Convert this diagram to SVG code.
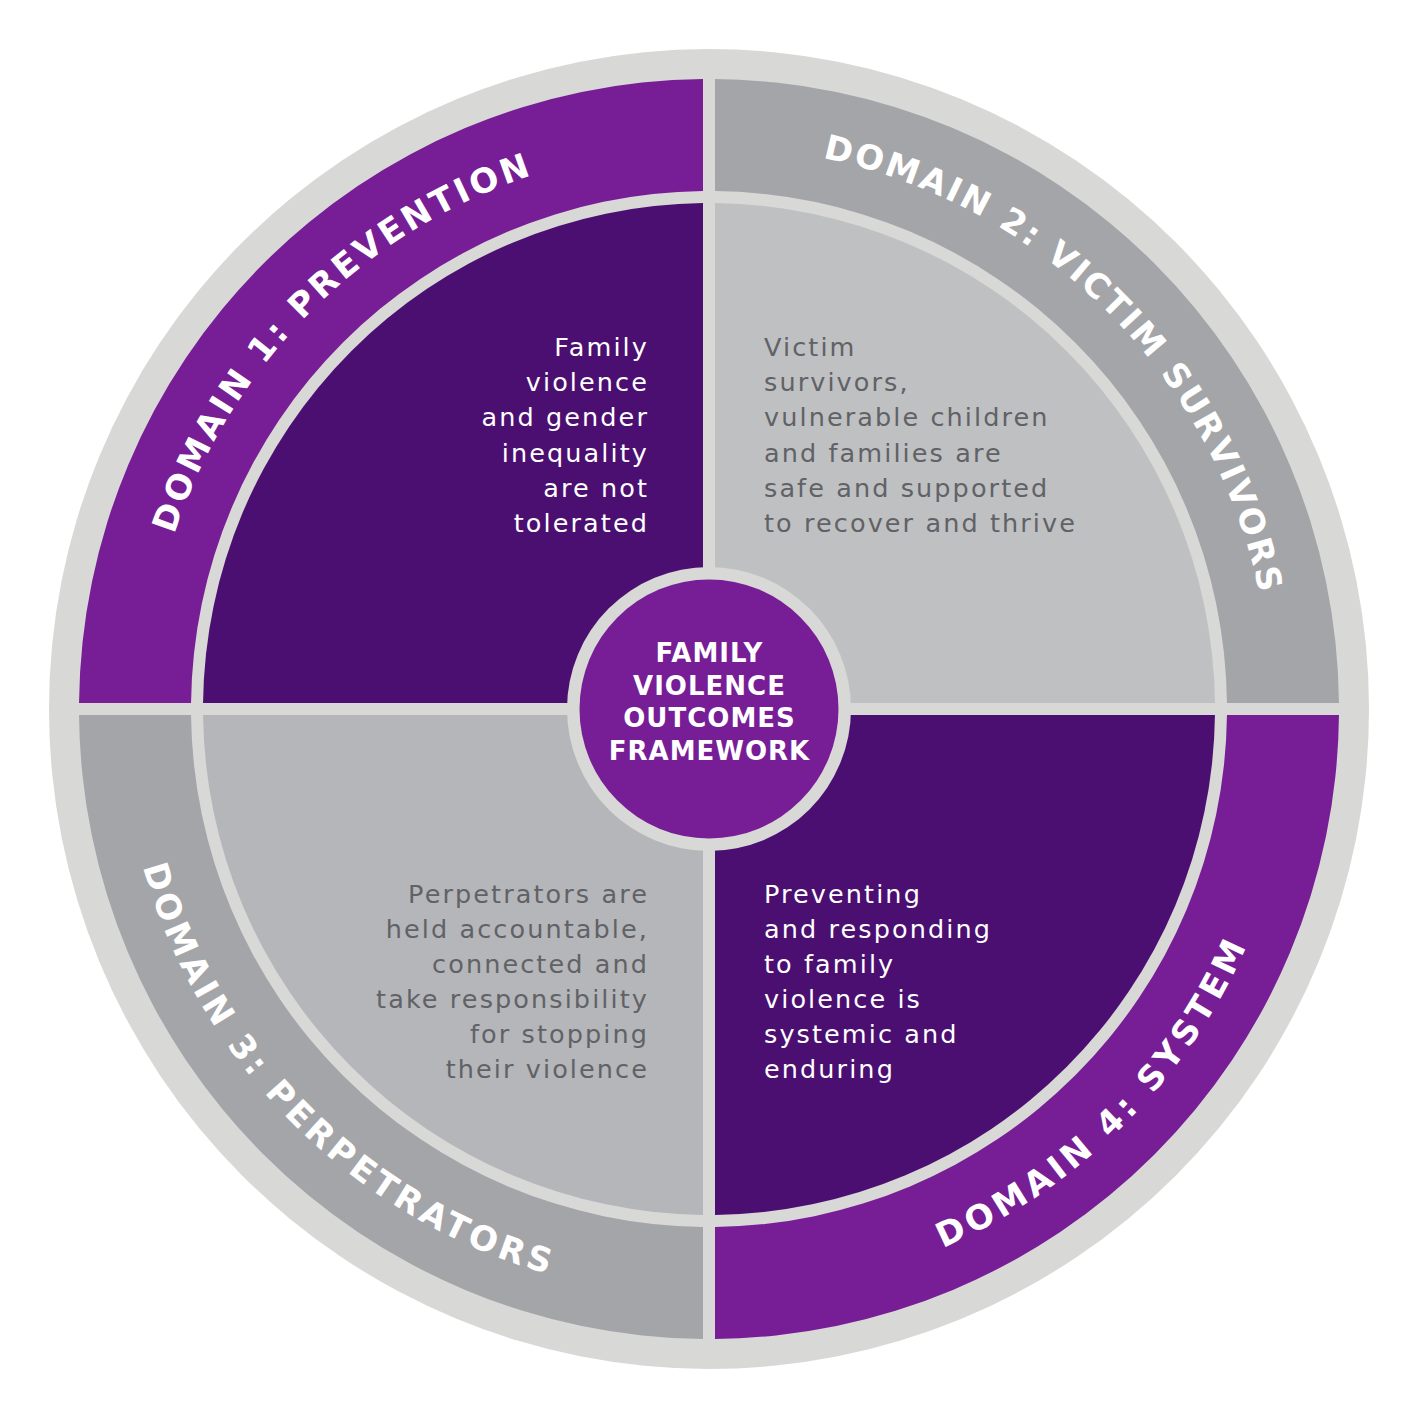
<svg xmlns="http://www.w3.org/2000/svg" width="1418" height="1418" viewBox="0 0 1418 1418">
  <style>
    .bg { fill: #d8d8d7; }
    .purple { fill: #771d96; }
    .dark { fill: #4a0f70; }
    .gray { fill: #a4a5a8; }
    .light-tr { fill: #bfc0c2; }
    .light-bl { fill: #b5b6b9; }
    .title { font-family: "DejaVu Sans", "Liberation Sans", sans-serif; font-weight: bold; font-size: 34px; fill: #ffffff; }
    .body { font-family: "DejaVu Sans", "Liberation Sans", sans-serif; font-size: 25.5px; letter-spacing: 2.1px; }
    .end { text-anchor: end; }
    .w { fill: #ffffff; }
    .g { fill: #616266; }
    .center { font-family: "DejaVu Sans", "Liberation Sans", sans-serif; font-weight: bold; font-size: 26px; letter-spacing: 1px; fill: #ffffff; text-anchor: middle; }
  </style>
  <defs>
    <path id="arcTL" d="M146.5,709 A562.5,562.5 0 0 1 709,146.5"/>
    <path id="arcTR" d="M709,146.5 A562.5,562.5 0 0 1 1271.5,709"/>
    <path id="arcBL" d="M121.5,709 A587.5,587.5 0 0 0 709,1296.5"/>
    <path id="arcBR" d="M709,1296.5 A587.5,587.5 0 0 0 1296.5,709"/>
  </defs>

  <g id="background">
    <rect x="0" y="0" width="1418" height="1418" fill="#ffffff"/>
    <circle class="bg" cx="709" cy="709" r="660"/>
  </g>

  <g id="domain1">
    <path class="purple" d="M79.03,703 A630,630 0 0 1 703,79.03 L703,191.03 A518,518 0 0 0 191.03,703 Z"/>
    <path class="dark" d="M703,703 L203.04,703 A506,506 0 0 1 703,203.04 Z"/>
    <text class="title" style="letter-spacing:3.2px"><textPath href="#arcTL" startOffset="50%" text-anchor="middle">DOMAIN 1: PREVENTION</textPath></text>
    <text class="body w end" x="649" y="356">Family</text>
    <text class="body w end" x="649" y="391">violence</text>
    <text class="body w end" x="649" y="426">and gender</text>
    <text class="body w end" x="649" y="461.5">inequality</text>
    <text class="body w end" x="649" y="497">are not</text>
    <text class="body w end" x="649" y="532">tolerated</text>
  </g>

  <g id="domain2">
    <path class="gray" d="M715,79.03 A630,630 0 0 1 1338.97,703 L1226.97,703 A518,518 0 0 0 715,191.03 Z"/>
    <path class="light-tr" d="M715,703 L715,203.04 A506,506 0 0 1 1214.96,703 Z"/>
    <text class="title" style="letter-spacing:2.6px"><textPath href="#arcTR" startOffset="50%" text-anchor="middle">DOMAIN 2: VICTIM SURVIVORS</textPath></text>
    <text class="body g" x="764" y="356">Victim</text>
    <text class="body g" x="764" y="391">survivors,</text>
    <text class="body g" x="764" y="426">vulnerable children</text>
    <text class="body g" x="764" y="461.5">and families are</text>
    <text class="body g" x="764" y="497">safe and supported</text>
    <text class="body g" x="764" y="532">to recover and thrive</text>
  </g>

  <g id="domain3">
    <path class="gray" d="M703,1338.97 A630,630 0 0 1 79.03,715 L191.03,715 A518,518 0 0 0 703,1226.97 Z"/>
    <path class="light-bl" d="M703,715 L703,1214.96 A506,506 0 0 1 203.04,715 Z"/>
    <text class="title" style="letter-spacing:3.9px"><textPath href="#arcBL" startOffset="50%" text-anchor="middle">DOMAIN 3: PERPETRATORS</textPath></text>
    <text class="body g end" x="649" y="903">Perpetrators are</text>
    <text class="body g end" x="649" y="938">held accountable,</text>
    <text class="body g end" x="649" y="973">connected and</text>
    <text class="body g end" x="649" y="1008">take responsibility</text>
    <text class="body g end" x="649" y="1043">for stopping</text>
    <text class="body g end" x="649" y="1078">their violence</text>
  </g>

  <g id="domain4">
    <path class="purple" d="M1338.97,715 A630,630 0 0 1 715,1338.97 L715,1226.97 A518,518 0 0 0 1226.97,715 Z"/>
    <path class="dark" d="M715,715 L1214.96,715 A506,506 0 0 1 715,1214.96 Z"/>
    <text class="title" style="letter-spacing:4.3px"><textPath href="#arcBR" startOffset="50%" text-anchor="middle">DOMAIN 4: SYSTEM</textPath></text>
    <text class="body w" x="764" y="903">Preventing</text>
    <text class="body w" x="764" y="938">and responding</text>
    <text class="body w" x="764" y="973">to family</text>
    <text class="body w" x="764" y="1008">violence is</text>
    <text class="body w" x="764" y="1043">systemic and</text>
    <text class="body w" x="764" y="1078">enduring</text>
  </g>

  <g id="center">
    <circle class="bg" cx="709" cy="709" r="142"/>
    <circle class="purple" cx="709" cy="709" r="129.5"/>
    <text class="center" x="709.5" y="662">FAMILY</text>
    <text class="center" x="709.5" y="694.5">VIOLENCE</text>
    <text class="center" x="709.5" y="727">OUTCOMES</text>
    <text class="center" x="709.5" y="759.5">FRAMEWORK</text>
  </g>
</svg>
